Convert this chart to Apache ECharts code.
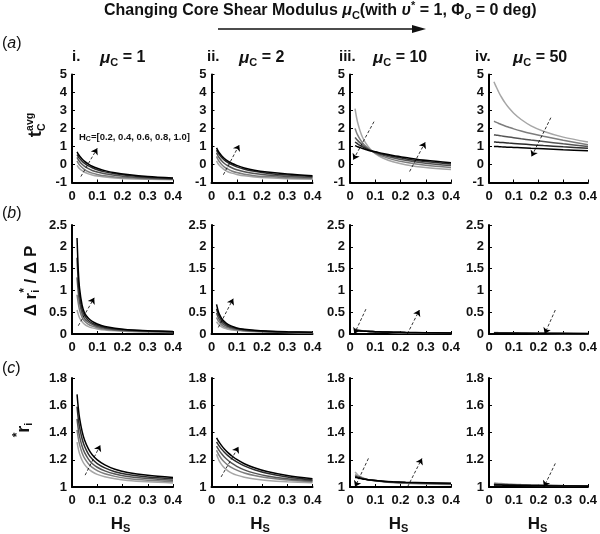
<!DOCTYPE html>
<html><head><meta charset="utf-8">
<script src="https://cdn.jsdelivr.net/npm/echarts@6/dist/echarts.min.js"></script>
<style>html,body{margin:0;padding:0;background:#fff}#c{width:600px;height:534px}</style>
</head><body><div id="c"></div>
<script>
// ---------------- data ----------------
const HS = [0.02, 0.025, 0.03, 0.04, 0.05, 0.065, 0.08, 0.1, 0.13, 0.17, 0.22, 0.3, 0.4];
const HC = [0.2, 0.4, 0.6, 0.8, 1.0];
const muC = ['1', '2', '10', '50'];
const romans = ['i.', 'ii.', 'iii.', 'iv.'];
const xTicks = [0, 0.1, 0.2, 0.3, 0.4];
const tcTicks = [-1, 0, 1, 2, 3, 4, 5];
const drTicks = [0, 0.5, 1, 1.5, 2, 2.5];
const riTicks = [1, 1.2, 1.4, 1.6, 1.8];

// row (a): t_C^avg ; one row per H_C (0.2 ... 1.0)
const tcMu1 = [
  [-0.05, -0.15, -0.23, -0.34, -0.43, -0.52, -0.58, -0.64, -0.70, -0.75, -0.79, -0.82, -0.85],
  [0.2, 0.07, -0.03, -0.17, -0.28, -0.40, -0.48, -0.55, -0.63, -0.69, -0.74, -0.79, -0.82],
  [0.4, 0.27, 0.17, 0.01, -0.10, -0.23, -0.33, -0.42, -0.52, -0.60, -0.68, -0.75, -0.8],
  [0.55, 0.43, 0.34, 0.18, 0.06, -0.08, -0.18, -0.29, -0.41, -0.52, -0.61, -0.71, -0.78],
  [0.7, 0.57, 0.47, 0.30, 0.17, 0.02, -0.10, -0.21, -0.34, -0.46, -0.56, -0.67, -0.75]
];
const tcMu2 = [
  [0.2, 0.07, -0.03, -0.17, -0.28, -0.40, -0.48, -0.55, -0.63, -0.69, -0.74, -0.79, -0.82],
  [0.45, 0.3, 0.18, 0.0, -0.13, -0.26, -0.36, -0.45, -0.54, -0.62, -0.67, -0.73, -0.77],
  [0.65, 0.5, 0.39, 0.21, 0.07, -0.07, -0.18, -0.29, -0.40, -0.50, -0.58, -0.66, -0.72],
  [0.8, 0.67, 0.56, 0.39, 0.26, 0.11, -0.01, -0.13, -0.26, -0.38, -0.48, -0.59, -0.67],
  [0.92, 0.78, 0.67, 0.49, 0.35, 0.19, 0.07, -0.05, -0.19, -0.32, -0.42, -0.53, -0.62]
];
const tcMu10 = [
  [3.1, 2.68, 2.35, 1.86, 1.5, 1.13, 0.86, 0.61, 0.36, 0.15, -0.01, -0.17, -0.28],
  [2.0, 1.81, 1.65, 1.40, 1.2, 0.98, 0.81, 0.64, 0.45, 0.27, 0.12, -0.04, -0.16],
  [1.5, 1.42, 1.34, 1.2, 1.07, 0.92, 0.79, 0.67, 0.52, 0.37, 0.23, 0.07, -0.06],
  [1.25, 1.2, 1.15, 1.06, 0.98, 0.87, 0.77, 0.69, 0.57, 0.44, 0.32, 0.16, 0.03],
  [1.05, 1.02, 0.99, 0.94, 0.89, 0.82, 0.76, 0.71, 0.61, 0.5, 0.39, 0.23, 0.1]
];
const tcMu50 = [
  [4.6, 4.44, 4.29, 4.0, 3.75, 3.42, 3.15, 2.85, 2.5, 2.15, 1.85, 1.52, 1.25],
  [2.4, 2.37, 2.34, 2.28, 2.22, 2.14, 2.07, 1.98, 1.86, 1.72, 1.57, 1.35, 1.1],
  [1.65, 1.64, 1.63, 1.61, 1.59, 1.56, 1.53, 1.49, 1.43, 1.36, 1.28, 1.15, 1.0],
  [1.25, 1.25, 1.24, 1.23, 1.22, 1.21, 1.19, 1.17, 1.14, 1.1, 1.05, 0.98, 0.9],
  [1.0, 1.0, 1.0, 0.99, 0.98, 0.97, 0.96, 0.95, 0.93, 0.9, 0.87, 0.82, 0.77]
];
// row (b): delta r_i* / delta P
const drMu1 = [
  [0.55, 0.45, 0.37, 0.28, 0.22, 0.17, 0.14, 0.115, 0.09, 0.072, 0.058, 0.046, 0.037],
  [0.9, 0.7, 0.55, 0.38, 0.29, 0.22, 0.18, 0.145, 0.11, 0.088, 0.07, 0.055, 0.043],
  [1.3, 0.95, 0.72, 0.47, 0.35, 0.27, 0.22, 0.17, 0.13, 0.1, 0.08, 0.062, 0.048],
  [1.75, 1.2, 0.88, 0.56, 0.42, 0.31, 0.25, 0.2, 0.15, 0.115, 0.09, 0.068, 0.053],
  [2.2, 1.45, 1.05, 0.66, 0.48, 0.36, 0.29, 0.23, 0.17, 0.13, 0.1, 0.075, 0.058]
];
const drMu2 = [
  [0.28, 0.24, 0.21, 0.165, 0.136, 0.11, 0.094, 0.079, 0.064, 0.052, 0.043, 0.034, 0.028],
  [0.38, 0.32, 0.28, 0.21, 0.17, 0.14, 0.116, 0.095, 0.076, 0.061, 0.049, 0.038, 0.031],
  [0.48, 0.4, 0.34, 0.26, 0.21, 0.165, 0.137, 0.11, 0.087, 0.069, 0.055, 0.042, 0.034],
  [0.58, 0.48, 0.41, 0.31, 0.25, 0.19, 0.16, 0.125, 0.098, 0.077, 0.06, 0.046, 0.037],
  [0.68, 0.56, 0.47, 0.36, 0.29, 0.22, 0.18, 0.14, 0.11, 0.085, 0.067, 0.05, 0.04]
];
const drMu10 = [
  [0.12, 0.11, 0.1, 0.087, 0.077, 0.066, 0.058, 0.05, 0.042, 0.034, 0.028, 0.021, 0.016],
  [0.1, 0.095, 0.09, 0.081, 0.074, 0.065, 0.058, 0.051, 0.044, 0.037, 0.031, 0.024, 0.019],
  [0.09, 0.087, 0.084, 0.077, 0.071, 0.064, 0.058, 0.052, 0.046, 0.039, 0.033, 0.026, 0.021],
  [0.082, 0.08, 0.078, 0.073, 0.069, 0.063, 0.058, 0.053, 0.047, 0.041, 0.035, 0.028, 0.023],
  [0.076, 0.075, 0.074, 0.071, 0.067, 0.062, 0.058, 0.054, 0.048, 0.043, 0.037, 0.031, 0.025]
];
const drMu50 = [
  [0.035, 0.034, 0.033, 0.031, 0.029, 0.027, 0.025, 0.023, 0.021, 0.018, 0.016, 0.013, 0.011],
  [0.028, 0.028, 0.027, 0.026, 0.025, 0.023, 0.022, 0.021, 0.019, 0.017, 0.015, 0.012, 0.01],
  [0.024, 0.024, 0.023, 0.023, 0.022, 0.021, 0.02, 0.019, 0.017, 0.015, 0.013, 0.011, 0.009],
  [0.021, 0.021, 0.021, 0.02, 0.02, 0.019, 0.018, 0.017, 0.016, 0.014, 0.012, 0.01, 0.008],
  [0.019, 0.019, 0.019, 0.018, 0.018, 0.017, 0.016, 0.015, 0.014, 0.013, 0.011, 0.009, 0.007]
];
// row (c): r_i*
const riMu1 = [
  [1.33, 1.28, 1.244, 1.196, 1.164, 1.133, 1.112, 1.093, 1.075, 1.06, 1.048, 1.038, 1.03],
  [1.42, 1.357, 1.311, 1.25, 1.21, 1.171, 1.144, 1.12, 1.097, 1.078, 1.063, 1.05, 1.04],
  [1.5, 1.425, 1.371, 1.299, 1.252, 1.205, 1.173, 1.145, 1.118, 1.095, 1.077, 1.062, 1.05],
  [1.59, 1.5, 1.44, 1.354, 1.297, 1.242, 1.205, 1.172, 1.14, 1.112, 1.092, 1.074, 1.06],
  [1.68, 1.58, 1.506, 1.408, 1.343, 1.28, 1.237, 1.199, 1.162, 1.13, 1.107, 1.086, 1.07]
];
const riMu2 = [
  [1.24, 1.214, 1.194, 1.164, 1.142, 1.119, 1.102, 1.087, 1.072, 1.058, 1.048, 1.039, 1.032],
  [1.27, 1.25, 1.233, 1.206, 1.185, 1.161, 1.142, 1.124, 1.103, 1.084, 1.068, 1.051, 1.038],
  [1.3, 1.284, 1.269, 1.244, 1.222, 1.196, 1.175, 1.152, 1.126, 1.102, 1.08, 1.06, 1.045],
  [1.33, 1.316, 1.302, 1.278, 1.257, 1.23, 1.208, 1.184, 1.155, 1.127, 1.101, 1.074, 1.052],
  [1.36, 1.344, 1.33, 1.304, 1.281, 1.252, 1.229, 1.202, 1.171, 1.141, 1.113, 1.084, 1.06]
];
const riMu10 = [
  [1.11, 1.1, 1.09, 1.078, 1.068, 1.058, 1.051, 1.045, 1.038, 1.032, 1.027, 1.022, 1.018],
  [1.09, 1.085, 1.08, 1.072, 1.065, 1.057, 1.051, 1.046, 1.04, 1.034, 1.029, 1.025, 1.021],
  [1.08, 1.077, 1.074, 1.068, 1.062, 1.056, 1.051, 1.047, 1.041, 1.036, 1.031, 1.027, 1.023],
  [1.075, 1.073, 1.07, 1.065, 1.06, 1.055, 1.051, 1.047, 1.042, 1.037, 1.033, 1.029, 1.025],
  [1.07, 1.069, 1.067, 1.063, 1.059, 1.055, 1.051, 1.048, 1.043, 1.039, 1.035, 1.031, 1.027]
];
const riMu50 = [
  [1.03, 1.029, 1.028, 1.026, 1.025, 1.023, 1.021, 1.02, 1.018, 1.016, 1.014, 1.011, 1.009],
  [1.024, 1.024, 1.023, 1.022, 1.021, 1.02, 1.019, 1.017, 1.016, 1.014, 1.012, 1.01, 1.008],
  [1.02, 1.02, 1.019, 1.019, 1.018, 1.017, 1.016, 1.015, 1.014, 1.012, 1.011, 1.009, 1.007],
  [1.017, 1.017, 1.017, 1.016, 1.016, 1.015, 1.014, 1.013, 1.012, 1.011, 1.01, 1.008, 1.007],
  [1.015, 1.015, 1.015, 1.014, 1.014, 1.013, 1.013, 1.012, 1.011, 1.01, 1.009, 1.007, 1.006]
];
// dashed trend arrows [start, end] in data units
const arrowsTc = [
  [[[0.035, -0.67], [0.1, 0.9]]],
  [[[0.047, -0.57], [0.11, 1.09]]],
  [[[0.095, 2.38], [0.013, 0.26]], [[0.236, -0.39], [0.298, 1.24]]],
  [[[0.25, 2.6], [0.172, 0.44]]]
];
const arrowsDr = [
  [[[0.025, 0.19], [0.088, 0.83]]],
  [[[0.027, 0.15], [0.086, 0.81]]],
  [[[0.063, 0.57], [0.017, 0.001]], [[0.227, 0.001], [0.275, 0.55]]],
  [[[0.268, 0.55], [0.225, 0.001]]]
];
const arrowsRi = [
  [[[0.052, 1.087], [0.112, 1.307]]],
  [[[0.038, 1.074], [0.107, 1.295]]],
  [[[0.073, 1.21], [0.02, 1.001]], [[0.228, 1.001], [0.285, 1.21]]],
  [[[0.268, 1.173], [0.222, 1.001]]]
];

// ---------------- layout / style ----------------
const FF = '"Liberation Sans", Arial, sans-serif';
const grays = ['#a6a6a6', '#7d7d7d', '#545454', '#2c2c2c', '#000000'];
const colLeft = [72, 211.5, 350, 489];
const colW = 101;
const rowTop = [74.5, 225, 378];
const rowH = [108, 109, 109];
const rows = [
  { data: [tcMu1, tcMu2, tcMu10, tcMu50], ticks: tcTicks, interval: 1, arrows: arrowsTc },
  { data: [drMu1, drMu2, drMu10, drMu50], ticks: drTicks, interval: 0.5, arrows: arrowsDr },
  { data: [riMu1, riMu2, riMu10, riMu50], ticks: riTicks, interval: 0.2, arrows: arrowsRi }
];

const labelStyle = { color: '#111', fontWeight: 'bold', fontSize: 13, fontFamily: FF };
const grid = [], xAxis = [], yAxis = [], series = [];
rows.forEach((row, r) => {
  for (let c = 0; c < 4; c++) {
    const idx = r * 4 + c;
    grid.push({ left: colLeft[c], top: rowTop[r], width: colW, height: rowH[r], containLabel: false });
    xAxis.push({
      gridIndex: idx, type: 'value', min: xTicks[0], max: xTicks[xTicks.length - 1], interval: 0.1,
      axisLine: { show: true, onZero: false, lineStyle: { color: '#000', width: 2 } },
      axisTick: { show: true, inside: true, length: 3, lineStyle: { color: '#000', width: 1 } },
      axisLabel: Object.assign({ margin: 7 }, labelStyle),
      splitLine: { show: false }
    });
    yAxis.push({
      gridIndex: idx, type: 'value', min: row.ticks[0], max: row.ticks[row.ticks.length - 1], interval: row.interval,
      axisLine: { show: true, onZero: false, lineStyle: { color: '#000', width: 2 } },
      axisTick: { show: true, inside: true, length: 3, lineStyle: { color: '#000', width: 1 } },
      axisLabel: Object.assign({ margin: 5 }, labelStyle),
      splitLine: { show: false }
    });
    const panel = row.data[c];
    panel.forEach((vals, k) => {
      const s = {
        type: 'line', xAxisIndex: idx, yAxisIndex: idx, name: 'HC=' + HC[k],
        data: HS.map((x, i) => [x, vals[i]]),
        showSymbol: false, symbol: 'none', smooth: 0.3,
        lineStyle: { color: grays[k], width: 1.5 }, itemStyle: { color: grays[k] },
        clip: true, silent: true
      };
      if (k === panel.length - 1) {
        s.markLine = {
          silent: true, symbol: ['none', 'arrow'], symbolSize: 6,
          lineStyle: { type: [3, 2], width: 0.8, color: '#000' },
          itemStyle: { color: '#000' },
          label: { show: false },
          data: row.arrows[c].map(a => [{ coord: a[0] }, { coord: a[1] }])
        };
      }
      series.push(s);
    });
  }
});

// --------------- composed texts (sub/superscripts) ---------------
const ctx = document.createElement('canvas').getContext('2d');
function fnt(p) { return (p.italic ? 'italic ' : '') + (p.bold === false ? '' : 'bold ') + p.size + 'px ' + FF; }
function compose(pieces, center) {
  let x = 0, prevStart = 0; const items = [];
  pieces.forEach(p => {
    const f = fnt(p);
    ctx.font = f;
    const w = ctx.measureText(p.t).width;
    const px = p.stack ? prevStart : x;
    items.push({ px, p, f });
    if (!p.stack) { prevStart = x; x += w; } else { x = Math.max(x, px + w); }
  });
  const off = center ? -x / 2 : 0;
  return items.map(it => ({
    type: 'text', x: it.px + off, y: it.p.dy || 0,
    style: { text: it.p.t, font: it.f, fill: '#111', align: 'left', verticalAlign: 'middle', textAlign: 'left', textVerticalAlign: 'middle' }
  }));
}
function textGroup(x, y, pieces, opts) {
  opts = opts || {};
  return { type: 'group', x, y, rotation: opts.rot || 0, z: 100, children: compose(pieces, opts.center) };
}

const graphic = [];
// main title + arrow
graphic.push(textGroup(104, 11, [
  { t: 'Changing Core Shear Modulus ', size: 16 },
  { t: 'μ', size: 16, italic: true }, { t: 'C', size: 11, dy: 5 },
  { t: '(with ', size: 16 },
  { t: 'υ', size: 16, italic: true }, { t: '*', size: 11, dy: -5 },
  { t: ' = 1, Φ', size: 16 }, { t: 'o', size: 11, italic: true, dy: 5 },
  { t: ' = 0 deg)', size: 16 }
]));
graphic.push({ type: 'line', z: 100, shape: { x1: 218, y1: 29, x2: 416, y2: 29 }, style: { stroke: '#111', lineWidth: 1.6 } });
graphic.push({ type: 'polygon', z: 100, shape: { points: [[412, 25], [426, 29], [412, 33]] }, style: { fill: '#111' } });
// row letters
[['a', 44], ['b', 214], ['c', 369]].forEach(([l, y]) => {
  graphic.push(textGroup(2, y, [
    { t: '(', size: 16, bold: false }, { t: l, size: 16, bold: false, italic: true }, { t: ')', size: 16, bold: false }
  ]));
});
// column titles
const romanX = [72, 207, 339, 475];
const muX = [100, 239, 373, 513];
for (let c = 0; c < 4; c++) {
  graphic.push(textGroup(romanX[c], 57, [{ t: romans[c], size: 15 }]));
  graphic.push(textGroup(muX[c], 58, [
    { t: 'μ', size: 17, italic: true }, { t: 'C', size: 11, dy: 5 }, { t: ' = ' + muC[c], size: 16 }
  ]));
  // x axis names H_S
  graphic.push(textGroup(colLeft[c] + colW / 2 - 2, 524, [{ t: 'H', size: 17 }, { t: 'S', size: 11, dy: 5 }], { center: true }));
}
// H_C legend note
graphic.push(textGroup(79, 137, [
  { t: 'H', size: 9.5 }, { t: 'C', size: 7, dy: 2 }, { t: '=[' + HC.map(v => v.toFixed(1)).join(', ') + ']', size: 9.5 }
]));
// y axis names (rotated)
graphic.push(textGroup(36, 125, [
  { t: 't', size: 19 }, { t: 'avg', size: 10.5, dy: -6 }, { t: 'C', size: 10.5, dy: 6, stack: true }
], { rot: Math.PI / 2, center: true }));
graphic.push(textGroup(31, 281, [
  { t: 'Δ r', size: 17 }, { t: 'i', size: 11, dy: 5 }, { t: '*', size: 12, dy: -6, stack: true }, { t: ' / Δ P', size: 17 }
], { rot: Math.PI / 2, center: true }));
graphic.push(textGroup(24, 430, [
  { t: '*', size: 12, dy: -6 }, { t: 'r', size: 18 }, { t: 'i', size: 11, dy: 5 }
], { rot: Math.PI / 2, center: true }));

const chart = echarts.init(document.getElementById('c'), null, { renderer: 'canvas' });
chart.setOption({
  animation: false,
  backgroundColor: '#fff',
  grid, xAxis, yAxis, series, graphic
});
</script></body></html>
